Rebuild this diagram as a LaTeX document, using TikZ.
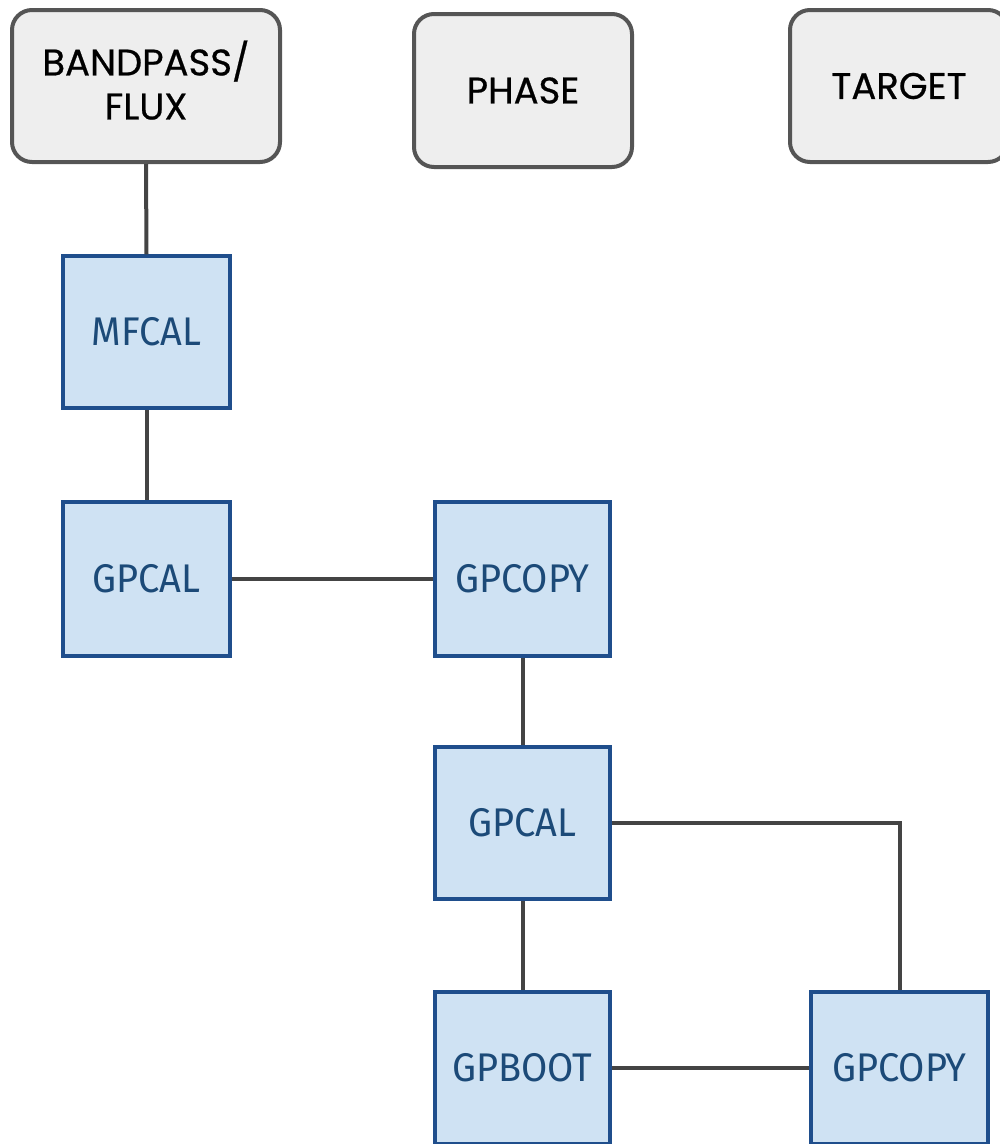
\documentclass[tikz,border=0pt]{standalone}
\usepackage{fontspec}
\newfontfamily\topfont[FakeBold=0.6]{Poppins}
\newfontfamily\boxfont[FakeStretch=0.95]{Fira Sans}
\definecolor{topfill}{HTML}{EEEEEE}
\definecolor{topdraw}{HTML}{555555}
\definecolor{bluefill}{HTML}{CFE2F3}
\definecolor{bluedraw}{HTML}{1F4E8C}
\definecolor{bluetext}{HTML}{1C4A78}
\definecolor{linecol}{HTML}{444444}
\begin{document}
\begin{tikzpicture}[x=1pt,y=-1pt,
  topbox/.style={draw=topdraw,fill=topfill,line width=4pt,rounded corners=20pt,
    inner sep=0pt,align=center,font=\topfont\fontsize{37}{44}\selectfont,text=black},
  bluebox/.style={draw=bluedraw,fill=bluefill,line width=3.5pt,inner sep=0pt,
    font=\boxfont\fontsize{40}{46}\selectfont,text=bluetext},
  conn/.style={draw=linecol,line width=4pt}]
\useasboundingbox (0,0) rectangle (1000,1144);
% top boxes
\node[topbox,minimum width=268pt,minimum height=152pt] (band) at (146,86) {BANDPASS/\\FLUX\\[-32pt]};
\node[topbox,minimum width=218pt,minimum height=153pt] (phase) at (523,90.5) {PHASE};
\node[topbox,minimum width=218pt,minimum height=152pt] (target) at (899,86) {TARGET};
% blue boxes
\node[bluebox,minimum width=167pt,minimum height=152pt] (mfcal) at (146.5,332) {MFCAL};
\node[bluebox,minimum width=167pt,minimum height=154pt] (gpcal1) at (146.5,579) {GPCAL};
\node[bluebox,minimum width=175pt,minimum height=154pt] (gpcopy1) at (522.5,579) {GPCOPY};
\node[bluebox,minimum width=175pt,minimum height=152pt] (gpcal2) at (522.5,823) {GPCAL};
\node[bluebox,minimum width=175pt,minimum height=152pt] (gpboot) at (522.5,1068) {GPBOOT};
\node[bluebox,minimum width=177pt,minimum height=152pt] (gpcopy2) at (899.5,1068) {GPCOPY};
% connectors
\draw[conn] (band.south) -- (mfcal.north);
\draw[conn] (mfcal.south) -- (gpcal1.north);
\draw[conn] (gpcal1.east) -- (gpcopy1.west);
\draw[conn] (gpcopy1.south) -- (gpcal2.north);
\draw[conn] (gpcal2.east) -| (gpcopy2.north);
\draw[conn] (gpcal2.south) -- (gpboot.north);
\draw[conn] (gpboot.east) -- (gpcopy2.west);
\end{tikzpicture}
\end{document}
